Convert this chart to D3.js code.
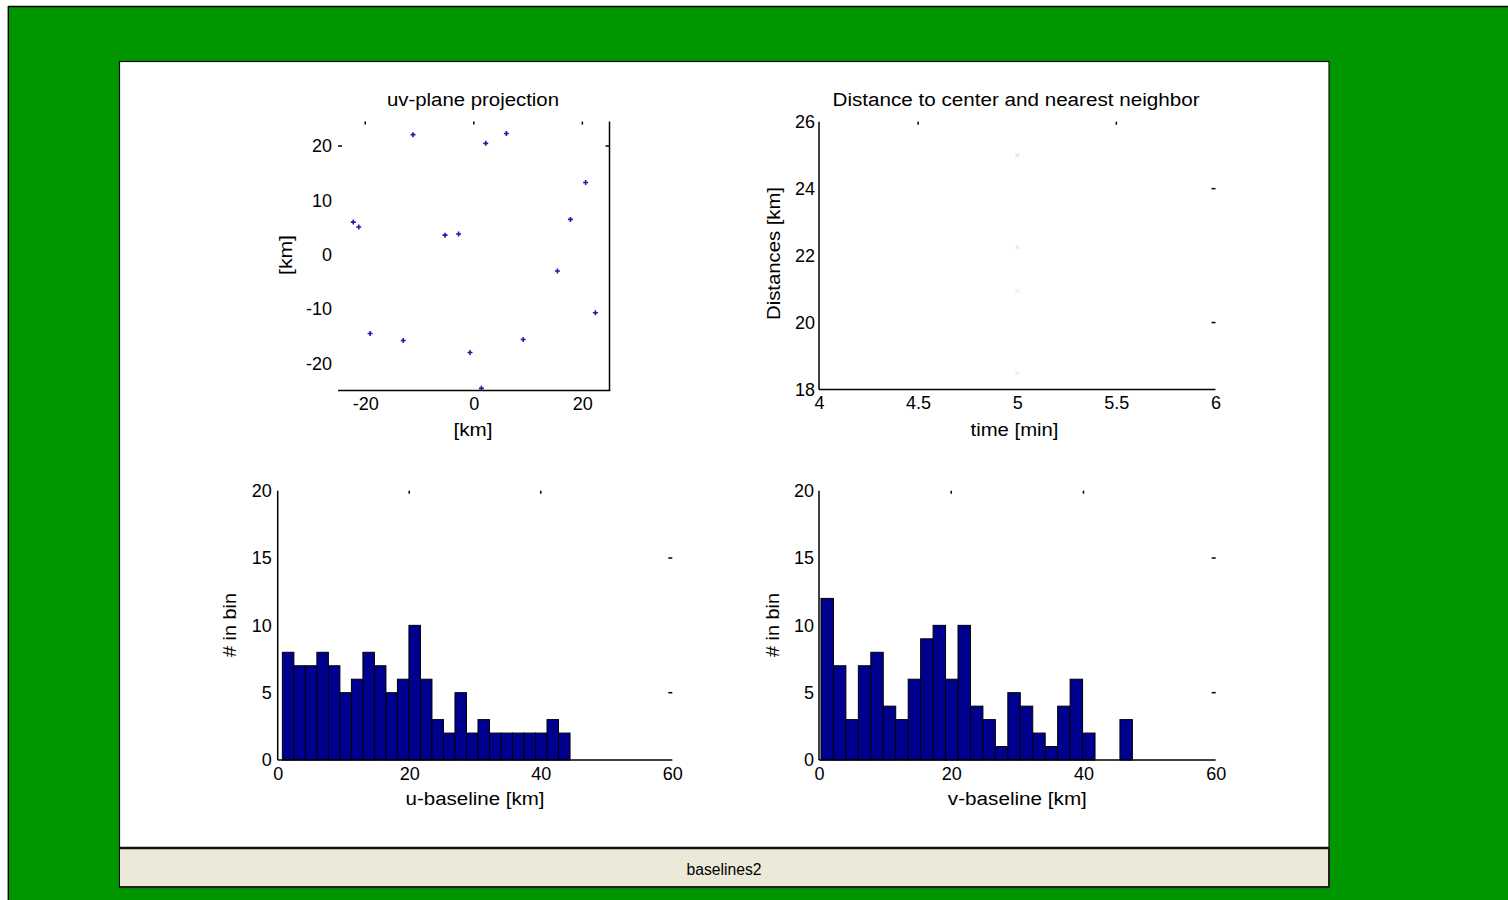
<!DOCTYPE html>
<html><head><meta charset="utf-8">
<script src="https://cdn.jsdelivr.net/npm/d3@7"></script>
<style>
body{margin:0;background:#fff}
svg{display:block}
text{font-family:"Liberation Sans",Arial,Helvetica,sans-serif;fill:#000}
</style>
</head><body>
<svg id="c" width="1508" height="900"></svg>
<script>
// ---------------- data ----------------
const uvU = [-11.2, 2.2, 6.0, 20.6, -22.2, -21.2, -5.3, -2.8, 17.8, 15.4, 22.4, -19.1, -13.0, -0.7, 9.1, 1.4];
const uvV = [22.1, 20.5, 22.3, 13.3, 6.0, 5.1, 3.6, 3.8, 6.5, -3.0, -10.7, -14.5, -15.8, -18.0, -15.6, -24.6];
const distTime = [5, 5, 5, 5];
const distVal = [25.0, 22.25, 20.95, 18.5];
const uCounts = [8,7,7,8,7,5,6,8,7,5,6,10,6,3,2,5,2,3,2,2,2,2,2,3,2];
const uRange = [0.71, 44.45];
const vCounts = [12,7,3,7,8,4,3,6,9,10,6,10,4,3,1,5,4,2,1,4,6,2,0,0,3];
const vRange = [0.30, 47.4];
const uvXTicks = [-20, 0, 20];
const uvYTicks = [20, 10, 0, -10, -20];
const timeTicks = [4, 4.5, 5, 5.5, 6];
const distTicks = [18, 20, 22, 24, 26];
const histXTicks = [0, 20, 40, 60];
const histYTicks = [0, 5, 10, 15, 20];
const titles = ["uv-plane projection", "Distance to center and nearest neighbor"];
const windowName = "baselines2";

// ---------------- frame ----------------
const svg = d3.select("#c");
svg.append("rect").attr("x",9).attr("y",7).attr("width",1499).attr("height",893).attr("fill","#009600");
svg.append("line").attr("x1",8).attr("x2",1508).attr("y1",6.5).attr("y2",6.5).attr("stroke","#000").attr("stroke-width",1.5);
svg.append("line").attr("x1",8.5).attr("x2",8.5).attr("y1",6).attr("y2",900).attr("stroke","#000").attr("stroke-width",1);
svg.append("line").attr("x1",7.5).attr("x2",7.5).attr("y1",6).attr("y2",900).attr("stroke","#999").attr("stroke-width",1);

svg.append("rect").attr("x",119.5).attr("y",61.5).attr("width",1209.5).attr("height",826).attr("fill","#fff").attr("stroke","#111").attr("stroke-width",1.2);
svg.append("rect").attr("x",120).attr("y",849).attr("width",1208.5).attr("height",37.5).attr("fill","#ece9d8");
svg.append("line").attr("x1",120).attr("x2",1329).attr("y1",848).attr("y2",848).attr("stroke","#111").attr("stroke-width",2.5);
svg.append("line").attr("x1",120).attr("x2",1329.5).attr("y1",887).attr("y2",887).attr("stroke","#222").attr("stroke-width",2);
svg.append("line").attr("x1",1329).attr("x2",1329).attr("y1",849).attr("y2",888).attr("stroke","#222").attr("stroke-width",2);
svg.append("text").attr("x",724).attr("y",875).attr("text-anchor","middle").attr("font-size",16)
  .attr("textLength",75).attr("lengthAdjust","spacingAndGlyphs").text(windowName);

// ---------------- helpers ----------------
const fmt = d => String(d);
function axesLabels(g, x, y, xt, yt, ypad){
  const ax = g.append("g").attr("transform",`translate(0,${y.range()[0]})`)
    .call(d3.axisBottom(x).tickValues(xt).tickFormat(fmt).tickSize(0).tickPadding(7));
  const ay = g.append("g").attr("transform",`translate(${x.range()[0]},0)`)
    .call(d3.axisLeft(y).tickValues(yt).tickFormat(fmt).tickSize(0).tickPadding(ypad));
  [ax, ay].forEach(a => { a.select(".domain").remove();
    a.selectAll("text").attr("font-size",18).attr("font-family","Liberation Sans, Arial, sans-serif").attr("fill","#000"); });
}
function line(g,x1,y1,x2,y2,w){ g.append("line").attr("x1",x1).attr("y1",y1).attr("x2",x2).attr("y2",y2).attr("stroke","#000").attr("stroke-width",w||1.5); }
function ticksTop(g,x,y,vals){ vals.forEach(v=>line(g,x(v),y.range()[1],x(v),y.range()[1]+3,1.5)); }
function ticksRight(g,x,y,vals){ vals.forEach(v=>line(g,x.range()[1]-4,y(v),x.range()[1],y(v),1.5)); }
function ticksLeft(g,x,y,vals){ vals.forEach(v=>line(g,x.range()[0],y(v),x.range()[0]+4,y(v),1.5)); }
function label(g,txt,x,y,len,rot){
  const t = g.append("text").attr("text-anchor","middle").attr("font-size",18)
    .attr("textLength",len).attr("lengthAdjust","spacingAndGlyphs").text(txt);
  if(rot) t.attr("transform",`translate(${x},${y}) rotate(-90)`); else t.attr("x",x).attr("y",y);
}

// ---------------- panel 1: uv-plane ----------------
{
  const g = svg.append("g");
  const x = d3.scaleLinear().domain([-25,25]).range([338.1,609.5]);
  const y = d3.scaleLinear().domain([-25,24.5]).range([390.5,121.6]);
  axesLabels(g,x,y,uvXTicks,uvYTicks,6);
  line(g,x.range()[0],y.range()[0],x.range()[1]+0.75,y.range()[0]);
  line(g,x.range()[1],y.range()[0],x.range()[1],y.range()[1]);
  ticksTop(g,x,y,uvXTicks);
  ticksRight(g,x,y,[20]);
  ticksLeft(g,x,y,[20]);
  const pts = uvU.map((u,i)=>[u,uvV[i]]);
  g.selectAll(".p").data(pts).join("path").attr("class","p")
    .attr("d",d=>{const px=x(d[0]),py=y(d[1]);return `M${px-2.5},${py}H${px+2.5}M${px},${py-2.5}V${py+2.5}`;})
    .attr("stroke","#1c1ca0").attr("stroke-width",1.6).attr("fill","none");
  label(g,titles[0],473,106,172);
  label(g,"[km]",473,436,39);
  label(g,"[km]",292,255,40,true);
}

// ---------------- panel 2: distances ----------------
{
  const g = svg.append("g");
  const x = d3.scaleLinear().domain([4,6]).range([819,1215.5]);
  const y = d3.scaleLinear().domain([18,26]).range([389.5,121.7]);
  axesLabels(g,x,y,timeTicks,distTicks,4);
  line(g,x.range()[0],y.range()[0],x.range()[1],y.range()[0]);
  line(g,x.range()[0],y.range()[0],x.range()[0],y.range()[1]);
  ticksTop(g,x,y,[4.5,5.5]);
  ticksRight(g,x,y,[24,20]);
  const cols = ["#f7dde3","#ecebf8","#f1f1fa","#ecebf8"];
  g.selectAll(".d").data(distVal.map((v,i)=>[distTime[i],v])).join("path").attr("class","d")
    .attr("d",d=>{const px=x(d[0]),py=y(d[1]);return `M${px-2},${py-2}L${px+2},${py+2}M${px+2},${py-2}L${px-2},${py+2}`;})
    .attr("stroke",(d,i)=>cols[i]).attr("stroke-width",1.5).attr("fill","none");
  label(g,titles[1],1016,106,367);
  label(g,"time [min]",1014.5,436,88);
  label(g,"Distances [km]",780,253.5,133,true);
}

// ---------------- histograms ----------------
function hist(counts, range, x0, x1, xlabel, ylx, ypad){
  const g = svg.append("g");
  const x = d3.scaleLinear().domain([0,60]).range([x0,x1]);
  const y = d3.scaleLinear().domain([0,20]).range([760,490.7]);
  const n = counts.length, w = (range[1]-range[0])/n;
  const bins = counts.map((c,i)=>({a:range[0]+i*w,b:range[0]+(i+1)*w,c}));
  g.selectAll(".b").data(bins.filter(d=>d.c>0)).join("rect").attr("class","b")
    .attr("x",d=>x(d.a)).attr("width",d=>x(d.b)-x(d.a))
    .attr("y",d=>y(d.c)).attr("height",d=>y(0)-y(d.c))
    .attr("fill","#00008f").attr("stroke","#000").attr("stroke-width",1);
  axesLabels(g,x,y,histXTicks,histYTicks,ypad);
  line(g,x.range()[0],y.range()[0],x.range()[1],y.range()[0]);
  line(g,x.range()[0],y.range()[0],x.range()[0],y.range()[1]);
  ticksTop(g,x,y,[20,40]);
  ticksRight(g,x,y,[15,5]);
  label(g,xlabel,(x0+x1)/2,805,139);
  label(g,"# in bin",ylx,625,64,true);
}
hist(uCounts,uRange,277.7,672.3,"u-baseline [km]",236,6);
hist(vCounts,vRange,819,1215.7,"v-baseline [km]",779,5);
</script>
</body></html>
